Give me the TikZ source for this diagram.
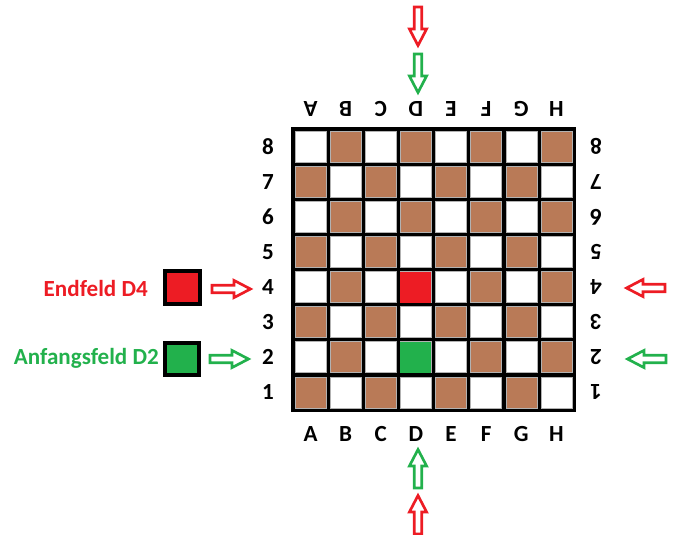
\documentclass[tikz,border=0pt]{standalone}
\usepackage{fontspec}
\setmainfont{Carlito}
\definecolor{brownsq}{HTML}{B97A57}
\definecolor{redsq}{HTML}{ED1C24}
\definecolor{greensq}{HTML}{22B14C}
\tikzset{
  lbl/.style={font=\bfseries\fontsize{17.3}{20}\selectfont, inner sep=0pt},
  cellbox/.style={draw=gray!60, line width=0.4pt},
  oarrow/.pic={\draw[line width=2pt, line join=miter, fill=white]
     (1,-3.7)--(23,-3.7)--(23,-8.6)--(39.5,0)--(23,8.6)--(23,3.7)--(1,3.7)--cycle;},
  legendbox/.style={draw=black, line width=3pt}
}
\begin{document}
\begin{tikzpicture}[x=0.75pt,y=-0.75pt]
\useasboundingbox (0,0) rectangle (678,535);
% board
\fill[black] (291,127) rectangle (576,412);
\foreach \i in {0,...,7}{
  \foreach \j in {0,...,7}{
    \pgfmathtruncatemacro{\myparity}{mod(\i+\j,2)}
    \ifnum\myparity=1 \def\cc{brownsq}\else\def\cc{white}\fi
    \fill[\cc] (295.1+35.11*\i,131.1+35.11*\j) rectangle ++(31,31);
    \draw[cellbox] (295.1+35.11*\i,131.1+35.11*\j) rectangle ++(31,31);
  }
}
% D4 and D2
\fill[redsq] (295.1+35.11*3,131.1+35.11*4) rectangle ++(31,31);
\fill[greensq] (295.1+35.11*3,131.1+35.11*6) rectangle ++(31,31);
% letters
\foreach \L [count=\k from 0] in {A,B,C,D,E,F,G,H}{
  \node[lbl] (bot\L) at (310.6+35.11*\k,434) {\L};
  \node[lbl, rotate=180] (top\L) at (310.6+35.11*\k,108.5) {\L};
}
% numbers
\foreach \N [count=\k from 0] in {8,7,6,5,4,3,2,1}{
  \node[lbl] (left\N) at (268,146.6+35.11*\k) {\N};
  \node[lbl, rotate=180] (right\N) at (596,146.6+35.11*\k) {\N};
}
% legend
\node[lbl, text=redsq, anchor=east] (endtxt) at (148,288) {Endfeld D4};
\node[lbl, text=greensq, anchor=east] (anftxt) at (159,358) {Anfangsfeld D2};
\filldraw[legendbox, fill=redsq] (165,271) rectangle (200,304);
\filldraw[legendbox, fill=greensq] (165,343) rectangle (199,375);
% arrows
\pic[draw=redsq] at (211,289) {oarrow};
\pic[draw=greensq] at (209,359) {oarrow};
\pic[draw=redsq, rotate=180] at (666,288) {oarrow};
\pic[draw=greensq, rotate=180] at (667,359) {oarrow};
\pic[draw=redsq, rotate=-90] at (418,6) {oarrow};
\pic[draw=greensq, rotate=-90] at (418,53) {oarrow};
\pic[draw=greensq, rotate=90] at (418,489) {oarrow};
\pic[draw=redsq, rotate=90] at (418,535) {oarrow};
\end{tikzpicture}
\end{document}
